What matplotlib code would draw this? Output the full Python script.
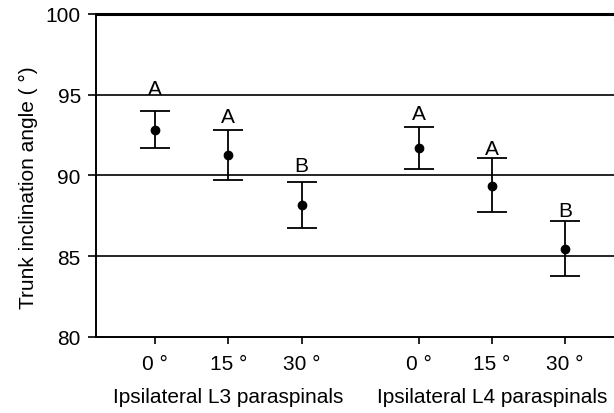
import matplotlib.pyplot as plt

plt.rcParams['font.family'] = ['Liberation Sans', 'DejaVu Sans']

conditions = ["0 °", "15 °", "30 °", "0 °", "15 °", "30 °"]
groups = ["Ipsilateral L3 paraspinals", "Ipsilateral L4 paraspinals"]
means = [92.8, 91.27, 88.17, 91.7, 89.37, 85.45]
upper = [94.0, 92.8, 89.62, 92.98, 91.08, 87.16]
lower = [91.7, 89.74, 86.75, 90.38, 87.72, 83.8]
letters = ["A", "A", "B", "A", "A", "B"]
letter_y = [95.05, 93.29, 90.30, 93.50, 91.33, 87.51]

xpos = [0, 1, 2, 3.6, 4.6, 5.6]
yerr = [[m - lo for m, lo in zip(means, lower)],
        [up - m for m, up in zip(means, upper)]]

fig = plt.figure(figsize=(6.14, 4.14), dpi=100)
ax = fig.add_axes([0.1564, 0.1836, 0.8436, 0.7802])

for y in [85, 90, 95]:
    ax.axhline(y, color='black', lw=1.2, zorder=1)

ax.errorbar(xpos, means, yerr=yerr, fmt='o', color='black', ms=6,
            ecolor='black', elinewidth=1.3, capsize=10.5, capthick=1.3, zorder=3)

for x, ly, t in zip(xpos, letter_y, letters):
    ax.text(x, ly, t, ha='center', va='baseline', fontsize=15)

ax.set_ylim(80, 100)
ax.set_xlim(-0.808, 6.27)
ax.set_yticks([80, 85, 90, 95, 100])
ax.set_xticks(xpos)
ax.set_xticklabels(conditions)
ax.tick_params(axis='both', labelsize=15, width=1.2, color='black')
ax.tick_params(axis='y', length=6, pad=5)
ax.tick_params(axis='x', length=5, pad=7)

ax.spines['right'].set_visible(False)
ax.spines['top'].set_linewidth(2.2)
ax.spines['left'].set_linewidth(1.4)
ax.spines['bottom'].set_linewidth(1.4)

ax.set_ylabel("Trunk inclination angle ( °)", fontsize=15)
ax.yaxis.set_label_coords(-0.112, 0.465)

for gx, g in zip([1, 4.6], groups):
    ax.text(gx, -0.185, g, ha='center', va='center', fontsize=15,
            transform=ax.get_xaxis_transform())

fig.savefig("out.png", dpi=100)
